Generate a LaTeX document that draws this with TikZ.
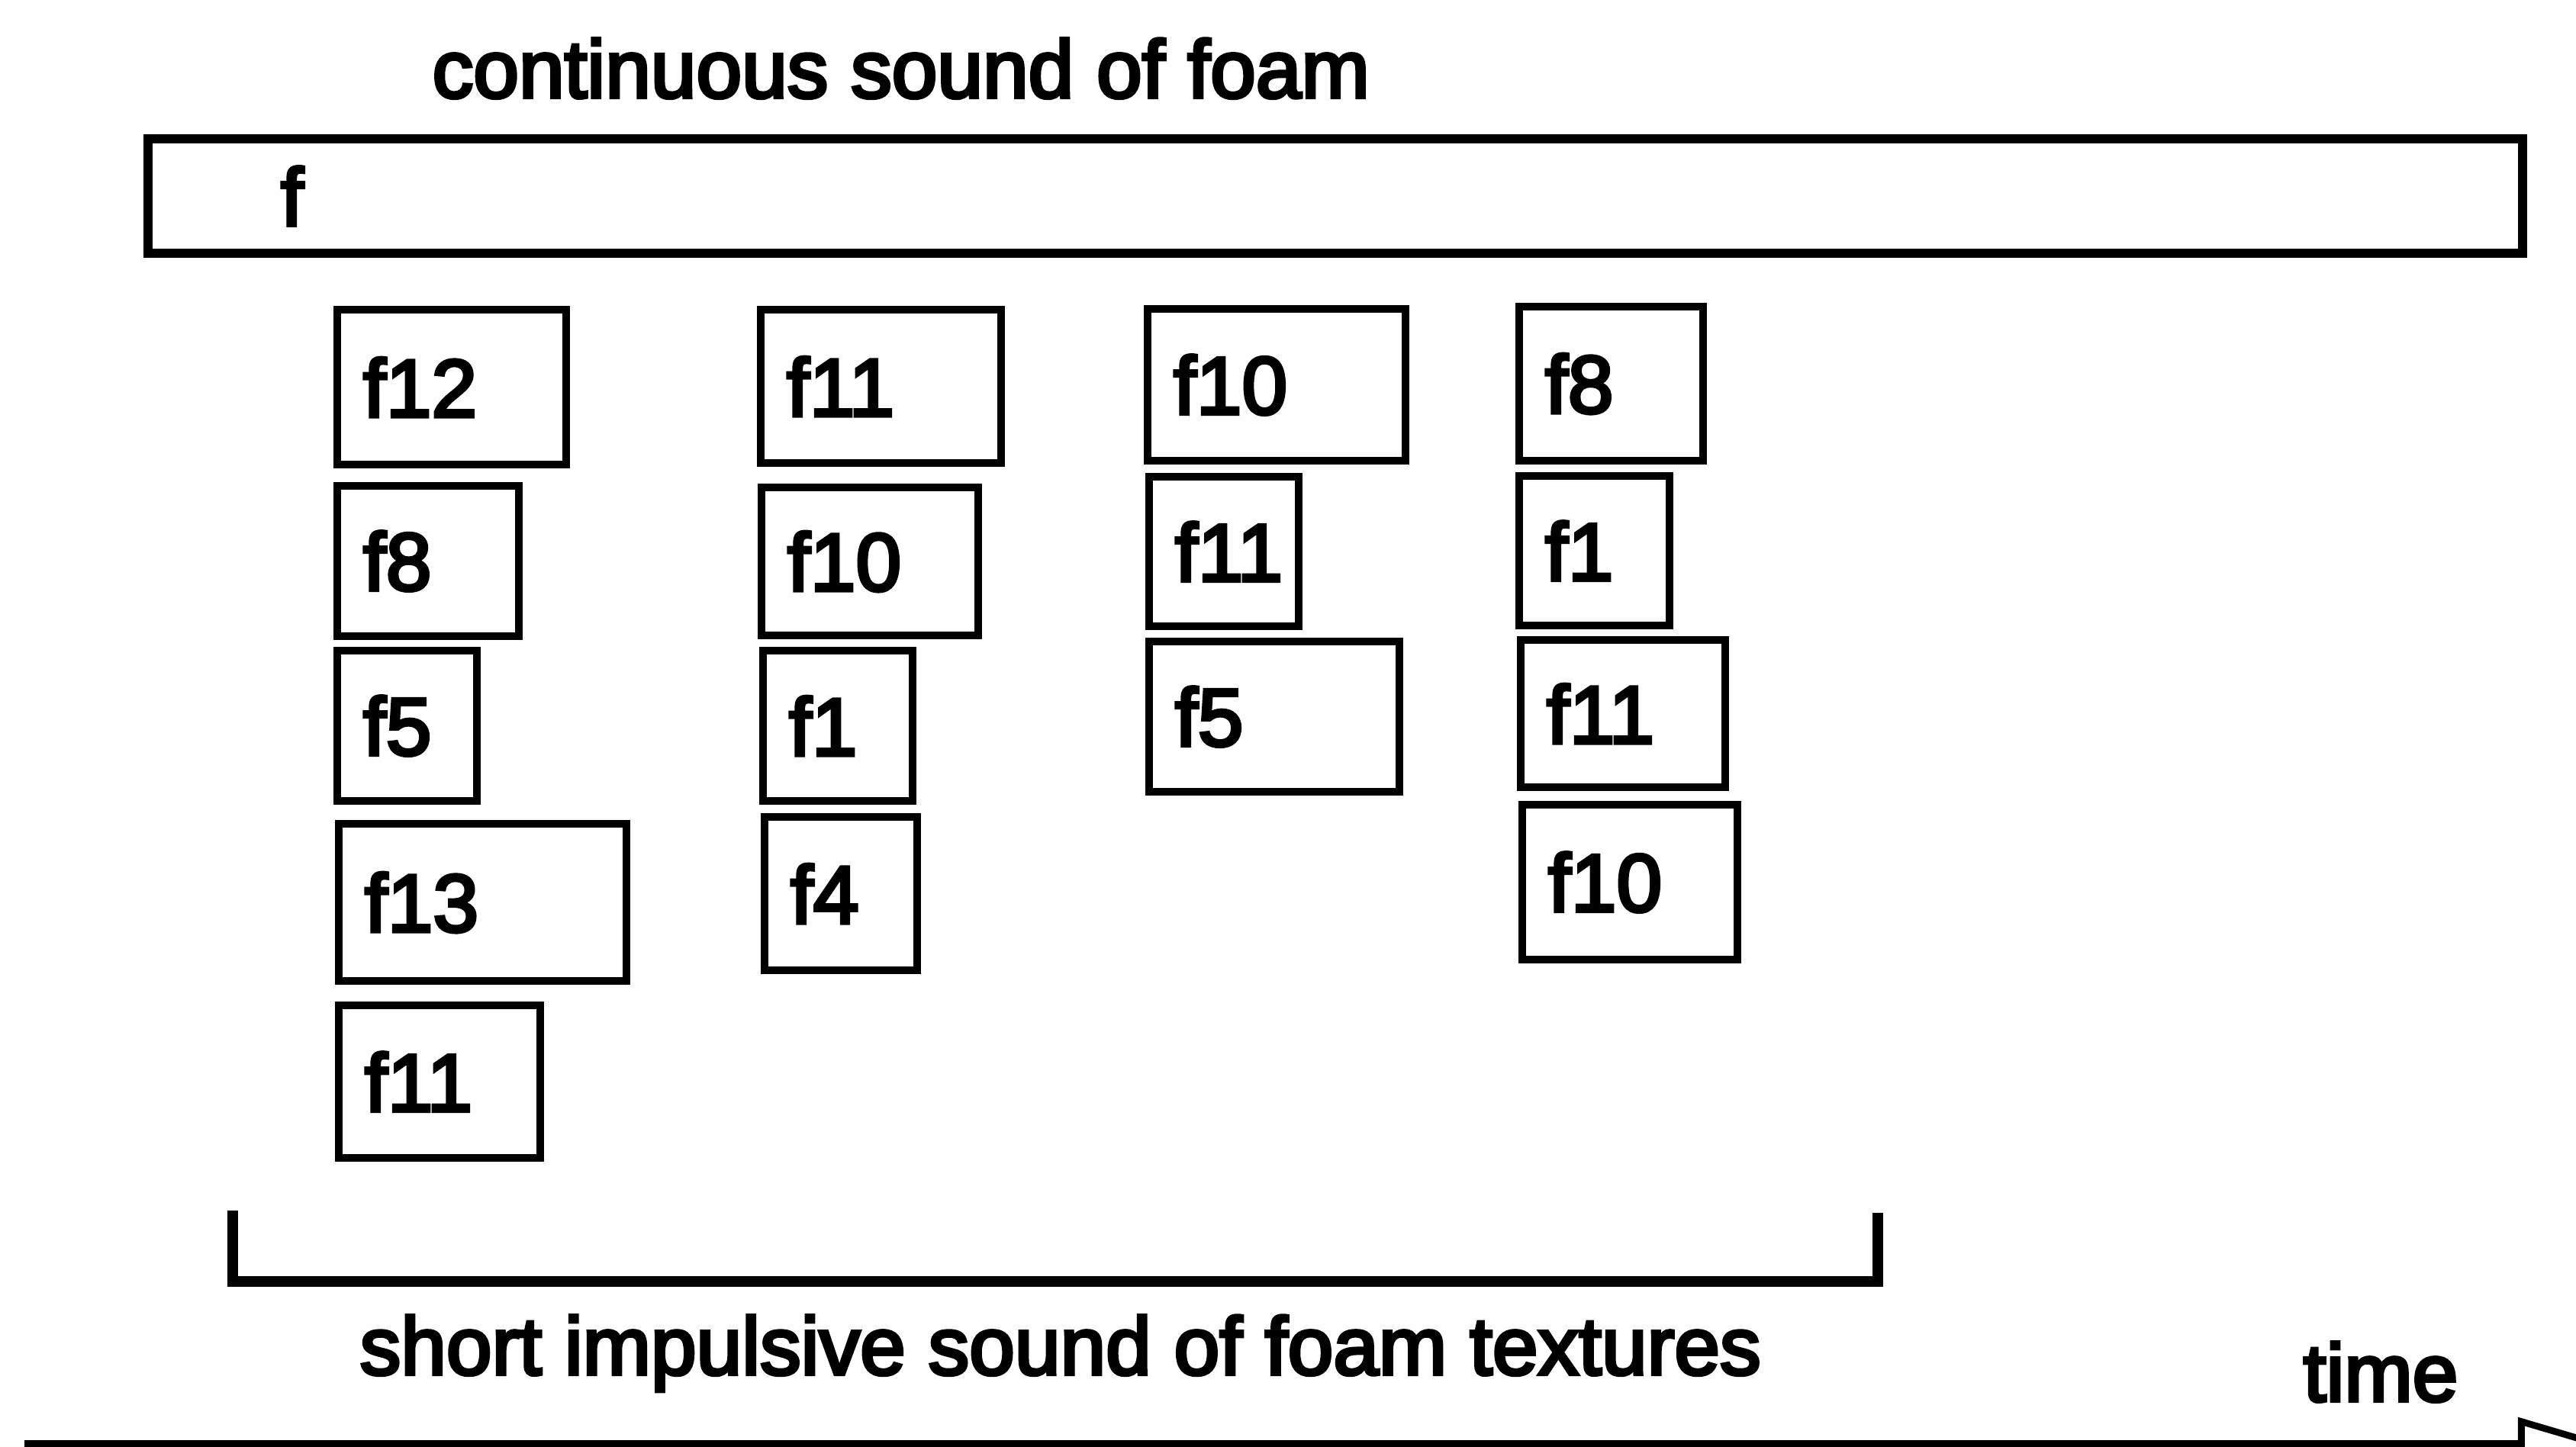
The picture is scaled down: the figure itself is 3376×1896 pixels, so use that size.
\documentclass[tikz,border=0pt]{standalone}
\usepackage{fontspec}
\setmainfont{Liberation Sans}[UprightFeatures={FakeBold=4}]
\usetikzlibrary{arrows.meta}

\begin{document}
\begin{tikzpicture}[x=0.01cm, y=-0.01cm, font=\fontsize{30.5}{36}\selectfont]

\tikzstyle{texture}=[draw, line width=2.85pt, anchor=north west, align=left, inner xsep=0.34cm, inner ysep=0pt]
\tikzstyle{caption}=[anchor=base west, inner sep=0pt]
\useasboundingbox (0,0) rectangle (3376,1896);

\node[caption] (title) at (566,128) {continuous sound of foam};
\node[texture][line width=3.4pt, inner xsep=1.74cm, text width=27.62cm, minimum height=1.50cm] (F) at (188,176) {f};

\node[texture][text width=2.32cm, minimum height=2.03cm] (T1) at (437,401) {f12};
\node[texture][text width=1.70cm, minimum height=1.97cm] (T2) at (437,632) {f8};
\node[texture][text width=1.15cm, minimum height=1.97cm] (T3) at (437,848) {f5};
\node[texture][text width=3.09cm, minimum height=2.06cm] (T4) at (439,1075) {f13};
\node[texture][text width=1.96cm, minimum height=2.00cm] (T5) at (439,1313) {f11};

\node[texture][text width=2.47cm, minimum height=2.01cm] (T6) at (992,401) {f11};
\node[texture][text width=2.16cm, minimum height=1.94cm] (T7) at (993,634) {f10};
\node[texture][text width=1.28cm, minimum height=1.97cm] (T8) at (995,848) {f1};
\node[texture][text width=1.32cm, minimum height=2.01cm] (T9) at (997,1066) {f4};

\node[texture][text width=2.70cm, minimum height=1.99cm] (T10) at (1499,400) {f10};
\node[texture][text width=1.28cm, minimum height=1.96cm] (T11) at (1501,620) {f11};
\node[texture][text width=2.60cm, minimum height=1.97cm] (T12) at (1501,836) {f5};

\node[texture][text width=1.73cm, minimum height=2.02cm] (T13) at (1986,397) {f8};
\node[texture][text width=1.29cm, minimum height=1.96cm] (T14) at (1986,619) {f1};
\node[texture][text width=2.00cm, minimum height=1.93cm] (T15) at (1988,834) {f11};
\node[texture][text width=2.14cm, minimum height=2.03cm] (T16) at (1990,1050) {f10};

\coordinate (B1) at (305,1587);
\coordinate (B2) at (305,1680);
\coordinate (B3) at (2461,1680);
\coordinate (B4) at (2461,1590);
\draw[line width=4pt] (B1) -- (B2) -- (B3) -- (B4);
\node[caption] (short) at (471,1802) {short impulsive sound of foam textures};
\node[caption] (time) at (3018,1837) {time};

\coordinate (A0) at (32,1896);
\coordinate (A1) at (3430,1896);
\draw[line width=4.5pt, -{Triangle[open, length=1.3cm, width=0.74cm, line width=2.5pt]}] (A0) -- (A1);
\end{tikzpicture}
\end{document}
